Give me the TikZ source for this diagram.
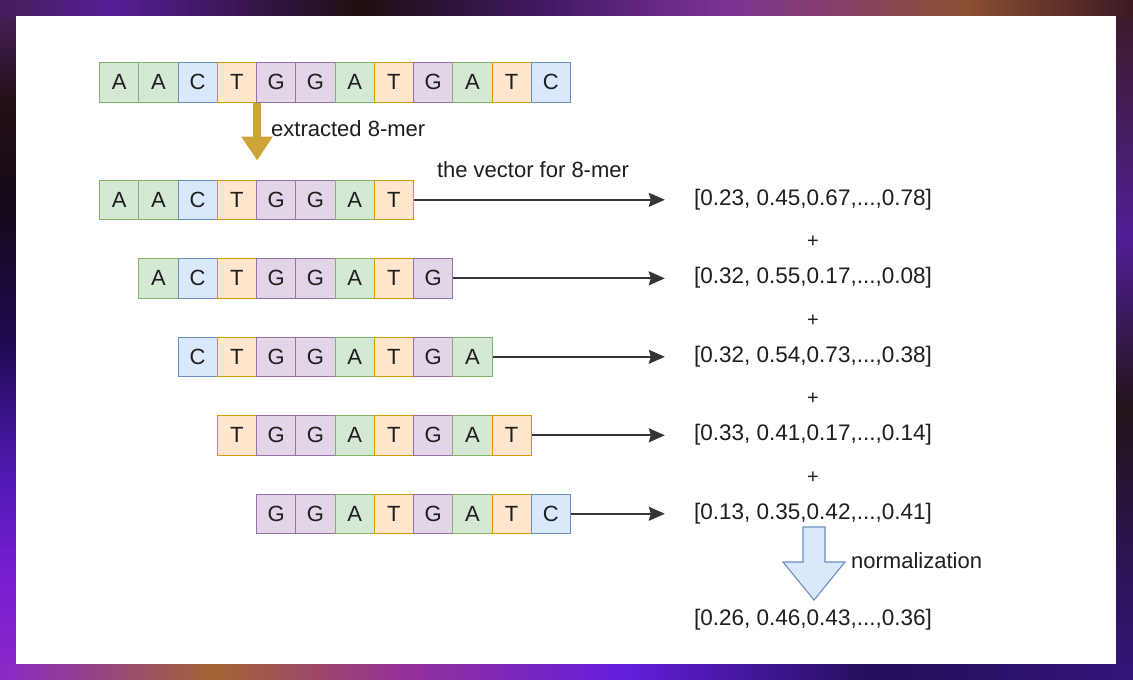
\documentclass[tikz,border=0pt]{standalone}
\usepackage{fontspec}
\setmainfont{Liberation Sans}
\usetikzlibrary{arrows.meta,calc}
\definecolor{gF}{HTML}{D5E8D4}\definecolor{gD}{HTML}{82B366}
\definecolor{bF}{HTML}{DAE8FC}\definecolor{bD}{HTML}{6C8EBF}
\definecolor{oF}{HTML}{FFE6CC}\definecolor{oD}{HTML}{D79B00}
\definecolor{pF}{HTML}{E1D5E7}\definecolor{pD}{HTML}{9673A6}
\definecolor{gold}{RGB}{204,164,56}
\definecolor{ink}{RGB}{30,30,30}
% background colours
\definecolor{t0}{RGB}{70,30,90}\definecolor{t1}{RGB}{85,30,150}\definecolor{t2}{RGB}{30,15,15}
\definecolor{t3}{RGB}{65,25,100}\definecolor{t4}{RGB}{125,50,150}\definecolor{t5}{RGB}{140,80,50}
\definecolor{t6}{RGB}{60,25,35}
\definecolor{b0}{RGB}{140,40,200}\definecolor{b1}{RGB}{165,100,50}\definecolor{b2}{RGB}{150,50,150}
\definecolor{b3}{RGB}{100,30,220}\definecolor{b4}{RGB}{35,15,90}\definecolor{b5}{RGB}{50,20,120}
\definecolor{l0}{RGB}{75,35,100}\definecolor{l1}{RGB}{35,15,20}\definecolor{l2}{RGB}{20,10,25}
\definecolor{l3}{RGB}{30,10,80}\definecolor{l4}{RGB}{80,25,180}\definecolor{l5}{RGB}{120,30,210}
\definecolor{r1}{RGB}{70,30,100}\definecolor{r2}{RGB}{80,30,150}\definecolor{r3}{RGB}{35,20,25}
\definecolor{r4}{RGB}{45,20,90}
% stops live in 25bp..75bp (TikZ fits that band to the path)
\pgfdeclarehorizontalshading{topbg}{100bp}{color(0bp)=(t0); color(25bp)=(t0); color(30bp)=(t1);
  color(41bp)=(t2); color(49bp)=(t3); color(57bp)=(t4); color(67.5bp)=(t5); color(75bp)=(t6); color(100bp)=(t6)}
\pgfdeclarehorizontalshading{botbg}{100bp}{color(0bp)=(b0); color(25bp)=(b0); color(34.5bp)=(b1);
  color(42.5bp)=(b2); color(52.5bp)=(b3); color(63.5bp)=(b4); color(75bp)=(b5); color(100bp)=(b5)}
\pgfdeclareverticalshading{leftbg}{100bp}{color(0bp)=(b0); color(25bp)=(b0); color(32.5bp)=(l5);
  color(40bp)=(l4); color(50bp)=(l3); color(60bp)=(l2); color(67.5bp)=(l1); color(75bp)=(l0); color(100bp)=(l0)}
\pgfdeclareverticalshading{rightbg}{100bp}{color(0bp)=(b5); color(25bp)=(b5); color(32.5bp)=(r4);
  color(45bp)=(r3); color(57.5bp)=(r2); color(65bp)=(r1); color(75bp)=(t6); color(100bp)=(t6)}
\tikzset{
  cellbase/.style={draw, minimum width=39.25pt, minimum height=39.5pt, inner sep=0pt,
    line width=1.1pt, font=\fontsize{22}{22}\selectfont, anchor=north west, text=ink},
  nA/.style={cellbase, fill=gF, draw=gD},
  nC/.style={cellbase, fill=bF, draw=bD},
  nT/.style={cellbase, fill=oF, draw=oD},
  nG/.style={cellbase, fill=pF, draw=pD},
  vec/.style={minimum width=296pt, inner sep=0pt, font=\fontsize{22.5}{22.5}\selectfont, text=ink},
  lbl/.style={inner sep=0pt, font=\fontsize{22}{22}\selectfont, text=ink},
  plus/.style={inner sep=0pt, font=\fontsize{20}{20}\selectfont, text=ink},
  conn/.style={draw=ink!90, line width=1.7pt, -{Stealth[length=16pt,width=14pt,inset=2pt]}},
}
\begin{document}
\begin{tikzpicture}[x=1pt,y=-1pt]
\useasboundingbox (0,0) rectangle (1133,680);
\shade[shading=leftbg] (0,0) rectangle (16,680);
\shade[shading=rightbg] (1116,0) rectangle (1133,680);
\shade[shading=topbg] (0,0) rectangle (1133,16);
\shade[shading=botbg] (0,664) rectangle (1133,680);
\fill[white] (16,16) rectangle (1116,664);

% row 1
\foreach \L [count=\i] in {A,A,C,T,G,G,A,T,G,A,T,C}
  \node[n\L] (r1c\i) at ({99+(\i-1)*39.25}, 62) {\L};

% k-mer rows
\foreach \L [count=\i] in {A,A,C,T,G,G,A,T}
  \node[n\L] (r2c\i) at ({99+(\i-1)*39.25}, 179.5) {\L};
\foreach \L [count=\i] in {A,C,T,G,G,A,T,G}
  \node[n\L] (r3c\i) at ({138.25+(\i-1)*39.25}, 258) {\L};
\foreach \L [count=\i] in {C,T,G,G,A,T,G,A}
  \node[n\L] (r4c\i) at ({177.5+(\i-1)*39.25}, 336.5) {\L};
\foreach \L [count=\i] in {T,G,G,A,T,G,A,T}
  \node[n\L] (r5c\i) at ({216.75+(\i-1)*39.25}, 415) {\L};
\foreach \L [count=\i] in {G,G,A,T,G,A,T,C}
  \node[n\L] (r6c\i) at ({256+(\i-1)*39.25}, 493.5) {\L};

% vectors
\node[vec] (v2) at (813,199.25) {[0.23, 0.45,0.67,...,0.78]};
\node[vec] (v3) at (813,277.75) {[0.32, 0.55,0.17,...,0.08]};
\node[vec] (v4) at (813,356.25) {[0.32, 0.54,0.73,...,0.38]};
\node[vec] (v5) at (813,434.75) {[0.33, 0.41,0.17,...,0.14]};
\node[vec] (v6) at (813,513.25) {[0.13, 0.35,0.42,...,0.41]};
\node[vec] (v7) at (813,620) {[0.26, 0.46,0.43,...,0.36]};

\node[plus] (p1) at (813,242) {+};
\node[plus] (p2) at (813,320.5) {+};
\node[plus] (p3) at (813,399) {+};
\node[plus] (p4) at (813,477.5) {+};

% connectors
\draw[conn] (r2c8.east) -- (r2c8.east -| v2.west);
\draw[conn] (r3c8.east) -- (r3c8.east -| v3.west);
\draw[conn] (r4c8.east) -- (r4c8.east -| v4.west);
\draw[conn] (r5c8.east) -- (r5c8.east -| v5.west);
\draw[conn] (r6c8.east) -- (r6c8.east -| v6.west);

\node[lbl, anchor=south] (lv) at (533,178) {the vector for 8-mer};

% extraction arrow
\draw[gold, line width=8pt, -{Triangle[length=24pt,width=30pt]}, shorten >=19pt]
  (r1c4.south east) -- (r1c4.south east |- r2c4.north);
\node[lbl, anchor=west] (lx) at (271,129) {extracted 8-mer};

% normalization block arrow
\draw[fill=bF, draw=bD, line width=1.1pt]
  (803,527) -- (825,527) -- (825,562) -- (845,562) -- (814,600) -- (783,562) -- (803,562) -- cycle;
\node[lbl, anchor=west] (ln) at (851,561) {normalization};
\end{tikzpicture}
\end{document}
